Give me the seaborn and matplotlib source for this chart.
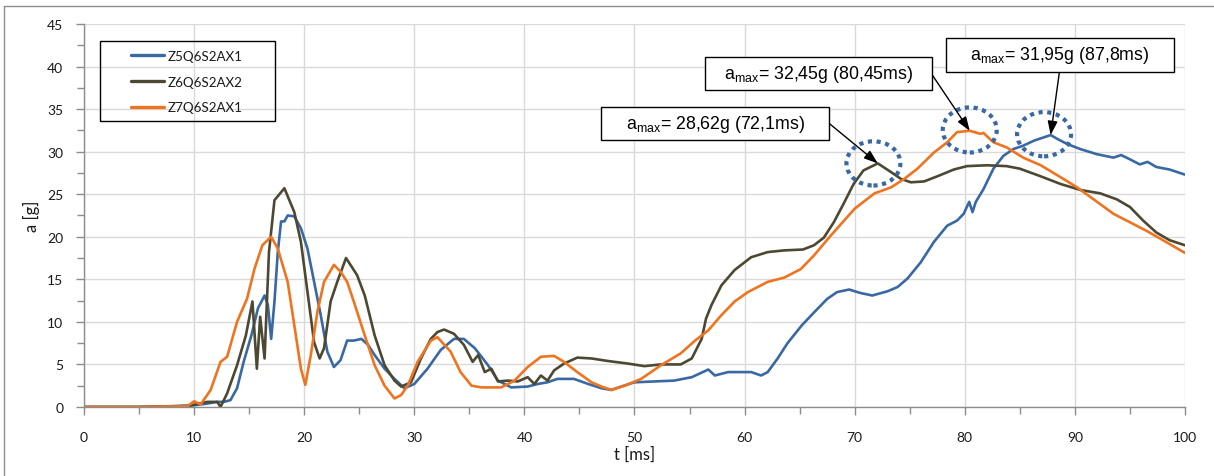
import numpy as np
import pandas as pd
import matplotlib
matplotlib.use("Agg")
import matplotlib.pyplot as plt
from matplotlib.patches import Ellipse, Rectangle
from matplotlib.lines import Line2D
from matplotlib.ticker import MultipleLocator
import seaborn as sns

# ---- measured acceleration traces: time [ms] / acceleration [g] ----
t_z5 = [0, 5, 8, 10, 11.2, 12.1, 12.7, 13.3, 13.9, 14.5, 15.2, 15.8, 16.4, 16.7, 17.0, 17.3,
        17.6, 17.9, 18.2, 18.5, 19.1, 19.7, 20.3, 20.9, 21.5, 22.1, 22.7, 23.3, 23.9, 24.5,
        25.2, 25.8, 26.4, 27.3, 28.2, 29.1, 30.0, 31.2, 32.4, 33.6, 34.5, 35.5, 36.7, 37.6,
        38.8, 40.3, 41.2, 42.1, 43.0, 44.5, 45.8, 47.0, 47.9, 48.8, 50.0, 51.8, 53.6, 55.2,
        56.7, 57.3, 58.5, 59.7, 60.6, 61.5, 62.1, 63.0, 63.9, 65.2, 66.3, 67.5, 68.4, 69.5,
        70.5, 71.6, 73.0, 73.9, 74.8, 76.0, 77.2, 78.4, 79.3, 79.9, 80.4, 80.7, 81.0, 81.7,
        82.6, 83.5, 84.4, 85.3, 86.3, 87.8, 88.4, 89.3, 90.5, 92.0, 93.5, 94.2, 95.0, 95.9,
        96.6, 97.4, 98.6, 100]
a_z5 = [0.0, 0.0, 0.1, 0.2, 0.4, 0.6, 0.6, 0.8, 2.2, 5.3, 8.4, 11.6, 13.1, 12.0, 8.0, 12.4,
        18.2, 21.8, 21.8, 22.5, 22.4, 21.0, 18.6, 14.7, 10.8, 6.5, 4.7, 5.5, 7.8, 7.8,
        8.0, 7.3, 6.1, 4.5, 3.3, 2.2, 2.7, 4.5, 6.7, 8.0, 8.0, 6.9, 4.9, 3.1,
        2.3, 2.4, 2.7, 2.9, 3.3, 3.3, 2.7, 2.2, 2.0, 2.4, 2.9, 3.0, 3.1, 3.5,
        4.4, 3.7, 4.1, 4.1, 4.1, 3.7, 4.1, 5.7, 7.5, 9.6, 11.1, 12.7, 13.5, 13.8,
        13.4, 13.1, 13.6, 14.1, 15.1, 17.0, 19.4, 21.3, 21.9, 22.7, 24.1, 22.9, 24.1, 25.6,
        28.0, 29.5, 30.3, 30.7, 31.3, 31.95, 31.5, 30.9, 30.3, 29.7, 29.3, 29.6, 29.1, 28.5,
        28.8, 28.2, 27.9, 27.3]

t_z6 = [0, 5, 9.4, 11.2, 12.1, 12.4, 13.0, 13.9, 14.7, 15.3, 15.7, 16.0, 16.4, 16.8, 17.3,
        18.2, 19.1, 19.7, 20.3, 20.9, 21.4, 21.8, 22.4, 23.0, 23.8, 24.2, 24.8, 25.5, 26.4,
        27.3, 28.2, 28.8, 29.7, 30.6, 31.5, 32.1, 32.7, 33.6, 34.5, 35.3, 35.8, 36.4, 37.0,
        37.6, 38.5, 39.4, 40.3, 40.9, 41.5, 42.1, 42.7, 43.6, 44.8, 46.1, 47.6, 49.4, 50.9,
        52.4, 54.2, 55.2, 56.1, 56.5, 57.0, 57.9, 59.1, 60.6, 62.1, 63.6, 65.3, 66.3, 67.2,
        68.1, 69.0, 69.9, 70.8, 72.1, 73.3, 74.2, 75.1, 76.3, 77.5, 79.0, 80.2, 82.0, 83.8,
        85.0, 86.9, 88.7, 90.5, 92.3, 93.8, 95.0, 96.2, 97.4, 98.6, 100]
a_z6 = [0.0, 0.0, 0.1, 0.6, 0.6, 0.0, 1.6, 4.9, 8.4, 12.4, 4.5, 10.6, 5.7, 18.2, 24.3,
        25.7, 22.9, 19.4, 13.5, 7.6, 5.7, 6.9, 12.4, 14.7, 17.5, 16.7, 15.5, 13.1, 8.4,
        4.9, 3.1, 2.4, 2.9, 5.7, 8.0, 8.8, 9.1, 8.6, 7.3, 5.3, 6.1, 4.1, 4.5,
        3.0, 3.1, 3.0, 3.5, 2.7, 3.7, 3.1, 4.3, 5.1, 5.8, 5.7, 5.4, 5.1, 4.8,
        5.0, 5.0, 5.7, 8.0, 10.4, 12.0, 14.3, 16.1, 17.6, 18.2, 18.4, 18.5, 19.0, 19.9,
        21.7, 23.9, 26.2, 27.8, 28.62, 27.6, 26.8, 26.4, 26.5, 27.1, 27.9, 28.3, 28.4, 28.3,
        28.0, 27.1, 26.2, 25.5, 25.1, 24.4, 23.5, 21.9, 20.5, 19.6, 19.0]

t_z7 = [0, 5, 9.4, 10.0, 10.6, 11.5, 12.4, 13.0, 13.9, 14.8, 15.5, 16.2, 17.0, 17.6, 18.5,
        19.1, 19.7, 20.1, 20.6, 21.2, 21.8, 22.7, 23.3, 23.9, 24.5, 25.5, 26.4, 27.3, 28.2,
        28.8, 29.4, 30.3, 31.5, 32.1, 33.3, 34.2, 35.2, 36.1, 37.9, 39.1, 40.3, 41.5, 42.7,
        43.6, 44.8, 46.1, 47.0, 47.9, 49.1, 50.6, 52.4, 54.2, 55.5, 56.7, 57.9, 59.1, 60.3,
        62.1, 63.6, 65.1, 66.3, 67.8, 70.0, 71.8, 73.3, 74.5, 75.7, 77.2, 78.4, 79.3, 80.45,
        81.4, 81.7, 82.6, 83.8, 85.3, 86.9, 88.7, 90.2, 91.7, 93.5, 95.0, 96.5, 98.0, 100]
a_z7 = [0.0, 0.0, 0.1, 0.67, 0.3, 2.0, 5.3, 5.9, 10.0, 12.7, 16.3, 19.0, 20.0, 18.6, 14.7,
        9.6, 4.5, 2.6, 6.1, 11.2, 14.7, 16.7, 15.9, 14.7, 12.4, 8.4, 4.9, 2.5, 1.0,
        1.4, 2.5, 5.3, 7.8, 8.2, 6.5, 4.1, 2.5, 2.3, 2.3, 3.1, 4.7, 5.9, 6.0,
        5.3, 4.1, 2.9, 2.4, 2.0, 2.5, 3.3, 4.9, 6.3, 7.8, 9.0, 10.8, 12.4, 13.5,
        14.7, 15.2, 16.2, 17.8, 20.1, 23.3, 25.1, 25.8, 26.8, 28.0, 29.9, 31.1, 32.3, 32.45,
        32.1, 32.2, 31.1, 30.5, 29.3, 28.4, 27.0, 25.8, 24.4, 22.7, 21.7, 20.7, 19.6, 18.1]

series_names = ["Z5Q6S2AX1", "Z6Q6S2AX2", "Z7Q6S2AX1"]
series_colors = ["#3A68A2", "#4D4832", "#EE7420"]

# peak annotations: (time, value, label text), ordered Z6, Z7, Z5
peak_t = [72.1, 80.45, 87.8]
peak_a = [28.62, 32.45, 31.95]
peak_labels = ["28,62g (72,1ms)", "32,45g (80,45ms)", "31,95g (87,8ms)"]

frames = []
for name, t, a in zip(series_names, [t_z5, t_z6, t_z7], [a_z5, a_z6, a_z7]):
    frames.append(pd.DataFrame({"t": t, "a": a, "series": name}))
df = pd.concat(frames, ignore_index=True)

sns.set_theme(style="white")
plt.rcParams["font.family"] = ["Lato", "DejaVu Sans"]

fig = plt.figure(figsize=(12.14, 4.77), dpi=100)
ax = fig.add_axes([0.0692, 0.1447, 0.9069, 0.8029])

sns.lineplot(data=df, x="t", y="a", hue="series", hue_order=series_names,
             palette=series_colors, linewidth=1.9, legend=False, ax=ax,
             estimator=None, sort=False)

ax.set_xlim(0, 100)
ax.set_ylim(0, 45)
ax.xaxis.set_major_locator(MultipleLocator(10))
ax.xaxis.set_minor_locator(MultipleLocator(5))
ax.yaxis.set_major_locator(MultipleLocator(5))
ax.yaxis.set_minor_locator(MultipleLocator(2.5))
ax.grid(True, which="major", color="#D9D9D9", linewidth=1.0)
ax.set_axisbelow(True)
for s in ["top", "right"]:
    ax.spines[s].set_visible(False)
for s in ["left", "bottom"]:
    ax.spines[s].set_color("#8C8C8C")
    ax.spines[s].set_linewidth(1.0)
ax.tick_params(which="both", direction="out", color="#8C8C8C", labelsize=10,
               labelcolor="#1A1A1A")
ax.tick_params(which="major", length=6, width=1)
ax.tick_params(which="minor", length=5, width=1)
ax.tick_params(axis="x", which="both", bottom=True, pad=11)
ax.tick_params(axis="y", which="both", left=True, pad=9)

ax.set_xlabel("t [ms]", fontsize=12, color="#1A1A1A", labelpad=2)
ax.set_ylabel("a [g]", fontsize=12, color="#1A1A1A", labelpad=5)

# legend: entries plus a separate frame rectangle
handles = [Line2D([0], [0], color=c, linewidth=2.4) for c in series_colors]
leg = ax.legend(handles, series_names, loc="upper left",
                bbox_to_anchor=(0.0427, 0.933), fontsize=9.6, frameon=False,
                handlelength=2.5, handletextpad=0.22, labelspacing=1.04,
                borderpad=0.0, borderaxespad=0.0)
for txt in leg.get_texts():
    txt.set_color("#1A1A1A")
ax.add_patch(Rectangle((0.0145, 0.7467), 0.159, 0.2089, transform=ax.transAxes,
                       fill=False, edgecolor="black", linewidth=1.0, zorder=8))

# dotted circles around the peaks
ell_w = [4.9, 4.9, 4.9]
ell_h = [5.2, 5.3, 5.2]
ell_dx = [-0.4, 0.0, -0.6]
ell_dy = [0.0, 0.1, 0.1]
for pt, pa, w, h, dx, dy in zip(peak_t, peak_a, ell_w, ell_h, ell_dx, ell_dy):
    ax.add_patch(Ellipse((pt + dx, pa + dy), w, h, fill=False, edgecolor="#3A68A2",
                         linestyle=(0, (1, 1.1)), linewidth=3.0, zorder=5))

# label boxes (x0, x1, y0, y1 in data units) with arrows pointing at the peaks
box_x0 = [47.0, 56.4, 78.3]
box_x1 = [67.7, 77.0, 99.0]
box_y0 = [31.4, 37.2, 39.4]
box_y1 = [35.3, 41.1, 43.4]
arrow_start = [(67.7, 33.3), (77.0, 39.1), (88.6, 39.4)]
for x0, x1, y0, y1, (sx, sy), pt, pa, lab in zip(box_x0, box_x1, box_y0, box_y1,
                                                   arrow_start, peak_t, peak_a, peak_labels):
    ax.add_patch(Rectangle((x0, y0), x1 - x0, y1 - y0, facecolor="white",
                           edgecolor="black", linewidth=1.0, zorder=7))
    ax.text((x0 + x1) / 2, (y0 + y1) / 2, r"a$_{\mathregular{max}}$= " + lab,
            ha="center", va="center", fontsize=12.8,
            family=["Liberation Sans", "DejaVu Sans"], color="black", zorder=8)
    ax.annotate("", xy=(pt, pa), xytext=(sx, sy),
                arrowprops=dict(arrowstyle="-|>,head_length=0.7,head_width=0.25",
                                color="black", linewidth=1.0,
                                shrinkA=0, shrinkB=0), zorder=6)

# outer chart frame (top and left edges)
fig.add_artist(Line2D([0.0035, 1.0], [0.985, 0.985], transform=fig.transFigure,
                      color="#8C8C8C", linewidth=1.0))
fig.add_artist(Line2D([0.0035, 0.0035], [0.0, 0.985], transform=fig.transFigure,
                      color="#8C8C8C", linewidth=1.0))

fig.savefig("out.png", dpi=100)
